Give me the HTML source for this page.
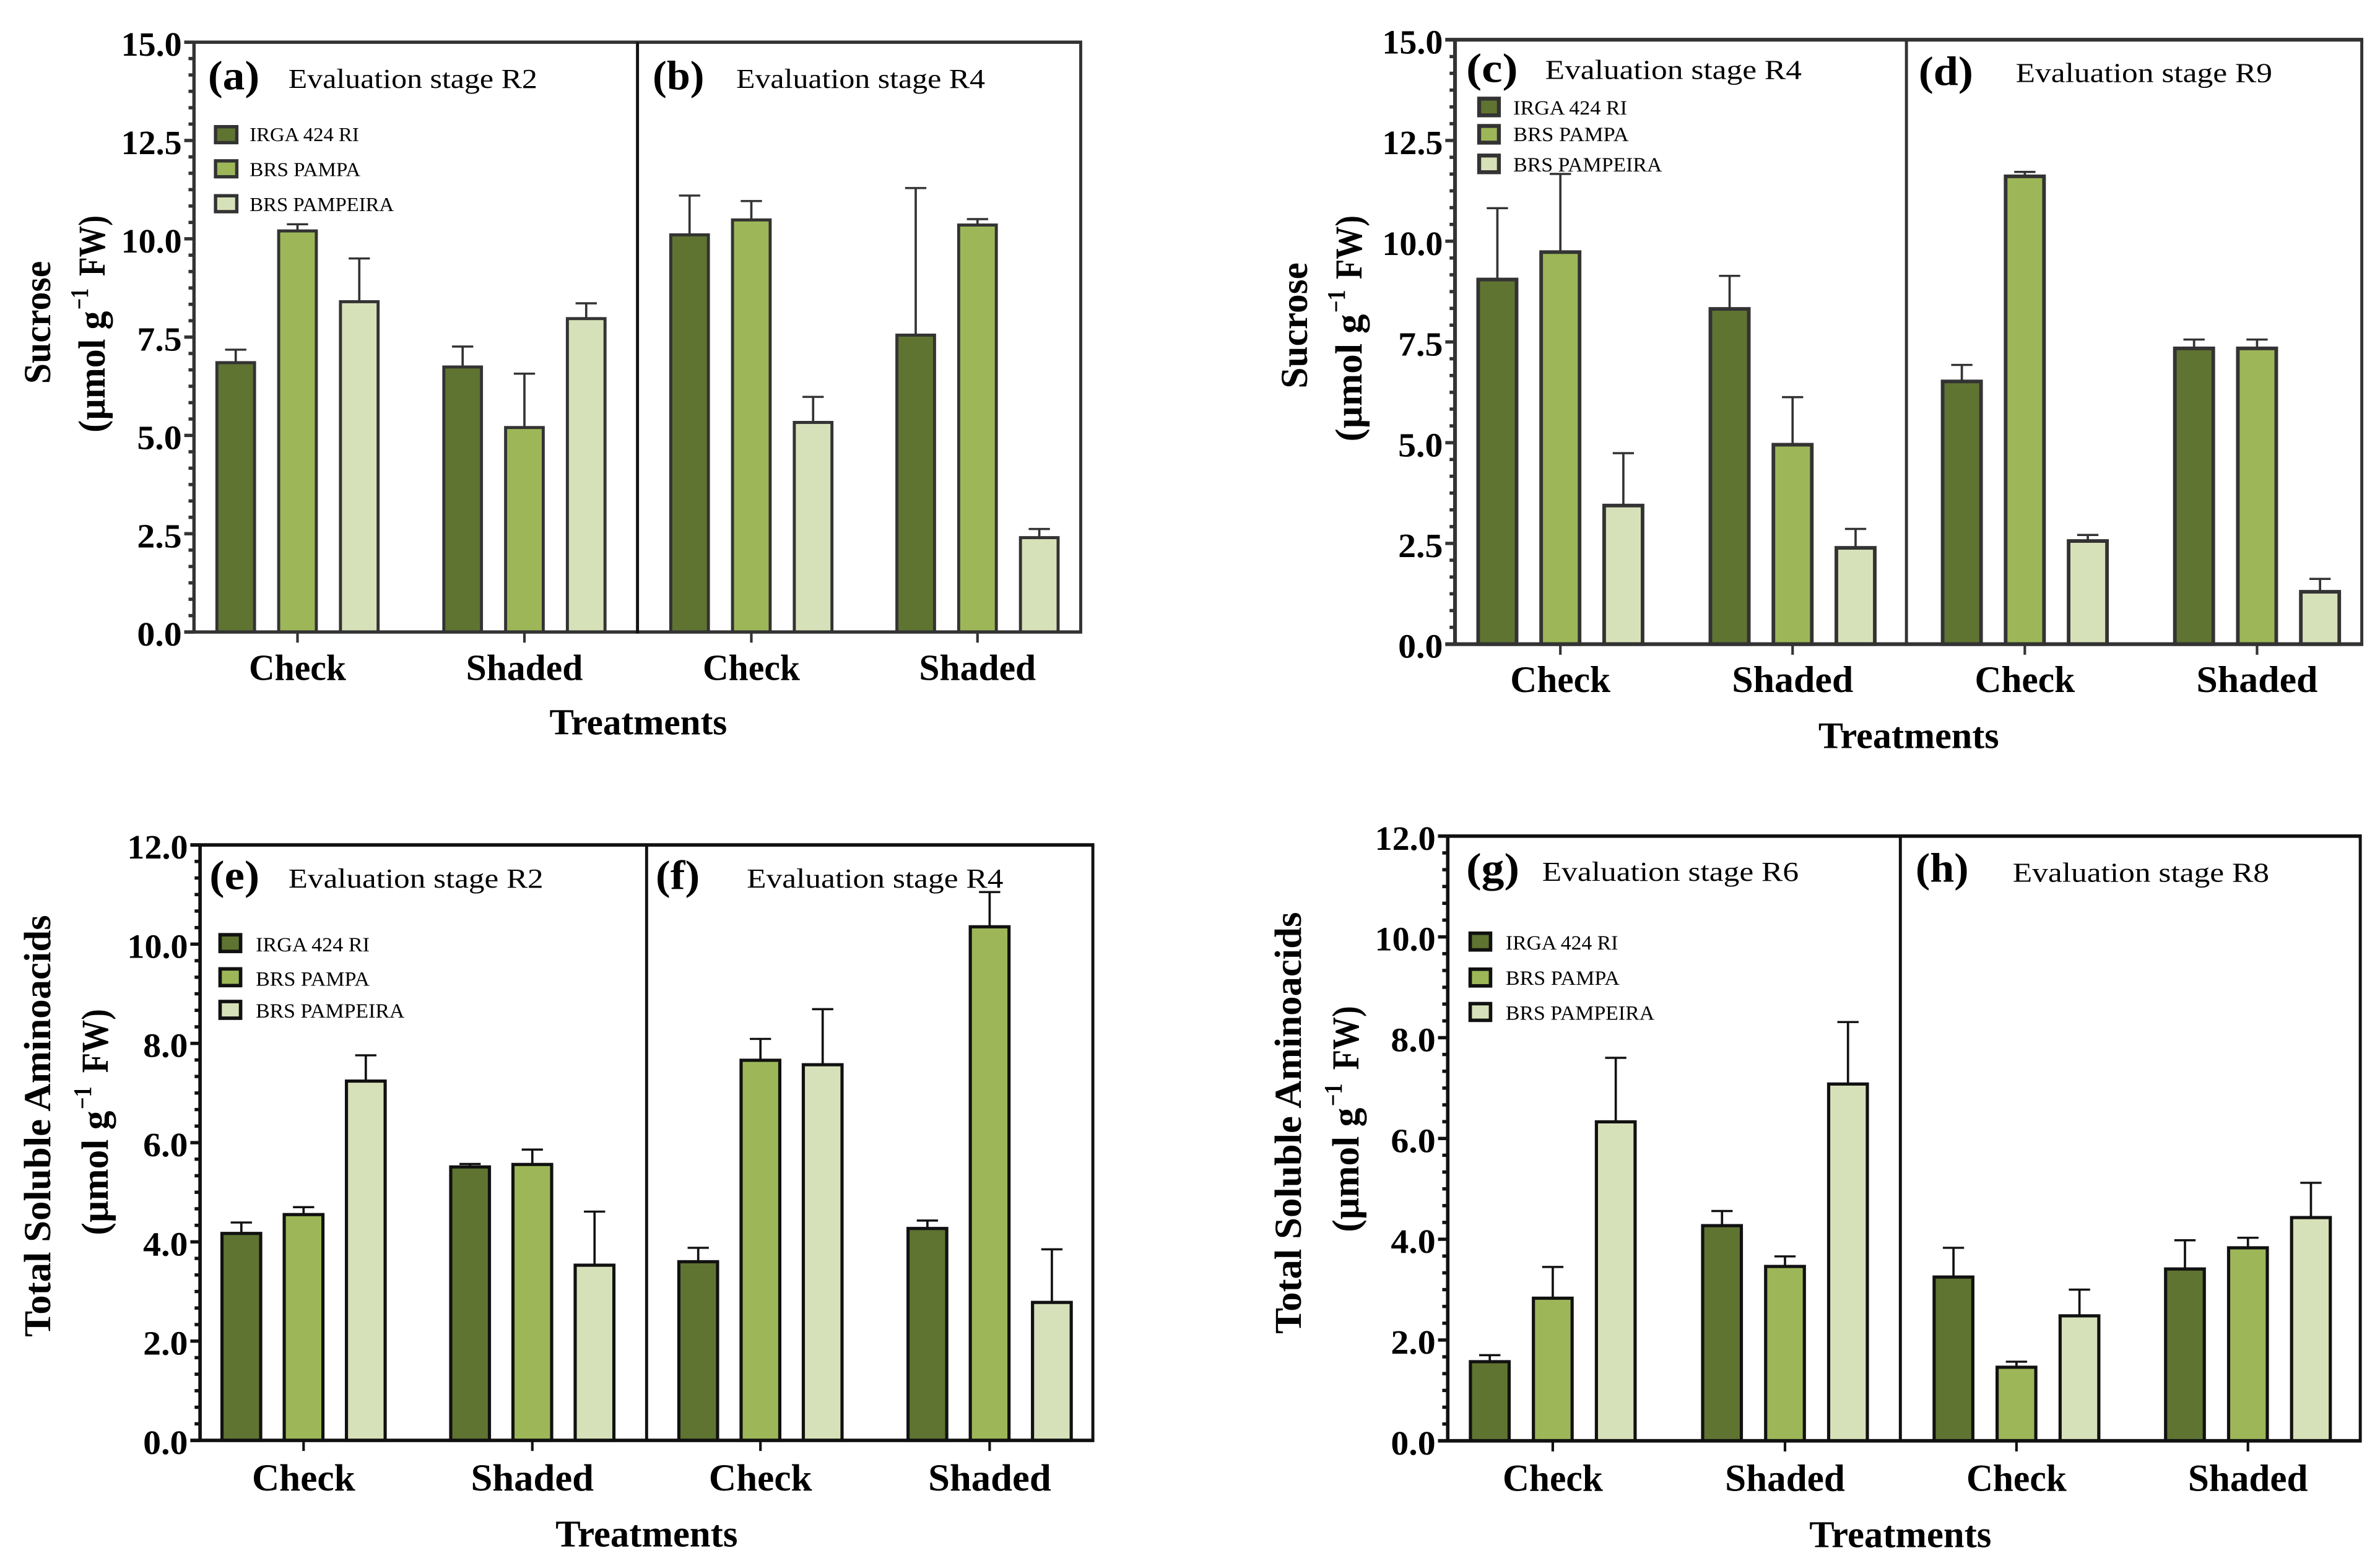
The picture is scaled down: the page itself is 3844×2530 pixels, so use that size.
<!DOCTYPE html>
<html lang="en">
<head>
<meta charset="utf-8">
<title>Sucrose and total soluble aminoacids by treatment</title>
<style>
html,body{margin:0;padding:0;background:#fff;}
svg{display:block;width:3844px;height:2530px;}
text{font-family:"Liberation Serif",serif;fill:#000;}
</style>
</head>
<body>
<svg id="chart" xmlns="http://www.w3.org/2000/svg" width="3844" height="2530" viewBox="0 0 1568 1032" preserveAspectRatio="none"></svg>
<script>
// ---------- data ----------
const categories = ['Check', 'Shaded'];
const varieties = ['IRGA 424 RI', 'BRS PAMPA', 'BRS PAMPEIRA'];
const sucroseTicks = [0, 2.5, 5, 7.5, 10, 12.5, 15];
const aminoTicks = [0, 2, 4, 6, 8, 10, 12];

const panelAMeans = [6.85, 10.2, 8.4, 6.74, 5.2, 7.97];
const panelAErrors = [0.33, 0.17, 1.1, 0.52, 1.37, 0.39];
const panelBMeans = [10.1, 10.48, 5.33, 7.55, 10.35, 2.4];
const panelBErrors = [1.0, 0.48, 0.65, 3.74, 0.15, 0.22];
const panelCMeans = [9.05, 9.73, 3.44, 8.32, 4.95, 2.39];
const panelCErrors = [1.77, 1.94, 1.3, 0.82, 1.18, 0.47];
const panelDMeans = [6.52, 11.61, 2.56, 7.34, 7.34, 1.3];
const panelDErrors = [0.41, 0.11, 0.15, 0.22, 0.22, 0.32];
const panelEMeans = [4.17, 4.55, 7.24, 5.51, 5.56, 3.53];
const panelEErrors = [0.22, 0.15, 0.52, 0.06, 0.3, 1.08];
const panelFMeans = [3.6, 7.66, 7.57, 4.27, 10.35, 2.78];
const panelFErrors = [0.28, 0.43, 1.12, 0.16, 0.7, 1.07];
const panelGMeans = [1.57, 2.83, 6.33, 4.27, 3.46, 7.08];
const panelGErrors = [0.13, 0.62, 1.27, 0.29, 0.2, 1.23];
const panelHMeans = [3.25, 1.46, 2.48, 3.41, 3.83, 4.43];
const panelHErrors = [0.58, 0.11, 0.52, 0.57, 0.2, 0.69];

// ---------- layout (display units, 1568 x 1032) ----------
const fills = ['#5f7431', '#9db758', '#d7e1b9'];
const svg = document.getElementById('chart');
const NS = 'http://www.w3.org/2000/svg';

function shape(tag, attrs, name) {
  const el = document.createElementNS(NS, tag);
  for (const k in attrs) el.setAttribute(k, attrs[k]);
  
  
  svg.appendChild(el);
  return el;
}
function label(str, x, y, size, len, opts, name) {
  const o = opts || {};
  const el = document.createElementNS(NS, 'text');
  el.setAttribute('x', x);
  el.setAttribute('y', y);
  el.setAttribute('font-size', size);
  if (o.bold) el.setAttribute('font-weight', '700');
  if (o.anchor) el.setAttribute('text-anchor', o.anchor);
  if (o.rotate) el.setAttribute('transform', 'rotate(-90 ' + x + ' ' + y + ')');
  el.setAttribute('textLength', len);
  el.setAttribute('lengthAdjust', 'spacingAndGlyphs');
  el.textContent = str;
  
  
  svg.appendChild(el);
  return el;
}
function seg(x1, y1, x2, y2, color, w, name) {
  return shape('line', {x1: x1, y1: y1, x2: x2, y2: y2, stroke: color, 'stroke-width': w}, name);
}

function drawFigure(f) {
  const yScale = v => f.bottom - (v / f.max) * (f.bottom - f.top);
  const c = f.color;

  // panels
  f.panels.forEach(p => {
    const key = p.letter;
    // error bars
    p.means.forEach((m, i) => {
      const g = Math.floor(i / 3), s = i % 3;
      const x = p.centers[g] + (s - 1) * f.step;
      const up = yScale(m + p.errors[i]);
      seg(x, yScale(m), x, up, c, 1.5, 'error-bar-' + key + '-' + categories[g].toLowerCase() + '-' + (s + 1));
      seg(x - 7, up, x + 7, up, c, 1.4, 'error-cap-' + key + '-' + categories[g].toLowerCase() + '-' + (s + 1));
    });
    // bars
    p.means.forEach((m, i) => {
      const g = Math.floor(i / 3), s = i % 3;
      const x = p.centers[g] + (s - 1) * f.step;
      shape('rect', {x: x - f.barW / 2, y: yScale(m), width: f.barW, height: f.bottom - yScale(m), fill: fills[s], stroke: c, 'stroke-width': f.barStroke},
        'bar-' + key + '-' + categories[g].toLowerCase() + '-' + (s + 1));
    });
    // x ticks + labels
    categories.forEach((cat, g) => {
      seg(p.centers[g], f.bottom, p.centers[g], f.bottom + 7, c, 1.7, 'x-tick-' + key + '-' + cat.toLowerCase());
      label(cat, p.centers[g], f.bottom + f.catDy, f.catSize, g === 0 ? f.checkW : f.shadedW, {bold: true, anchor: 'middle'}, 'x-label-' + key + '-' + cat.toLowerCase());
    });
    // panel letter and stage title
    label('(' + key + ')', p.letterX, p.letterY, 27, p.letterW, {bold: true}, 'panel-letter-' + key);
    label(p.stage, p.stageX, p.stageY, 18, p.stageW, {}, 'panel-title-' + key);
    // legend
    if (p.legend) {
      varieties.forEach((v, i) => {
        const L = p.legend;
        shape('rect', {x: L.sx, y: L.sy[i], width: L.sw, height: L.sh, fill: fills[i], stroke: c, 'stroke-width': f.barStroke + 0.2}, 'legend-swatch-' + key + '-' + (i + 1));
        label(v, L.tx, L.ty[i], L.size, L.tw[i], {}, 'legend-label-' + key + '-' + (i + 1));
      });
    }
  });

  // frame
  seg(f.left, f.top - 1, f.left, f.bottom + 1, c, f.axisW, 'y-axis-line');
  seg(f.left - 6.4, f.top, f.right + 1, f.top, c, f.axisW, 'top-border');
  seg(f.left - 6.4, f.bottom, f.right + 1, f.bottom, c, f.axisW, 'x-axis-line');
  seg(f.right, f.top, f.right, f.bottom, c, 2, 'right-border');
  seg(f.divider, f.top, f.divider, f.bottom + 1, f.dividerColor, 2, 'panel-divider');

  // y ticks
  const ticks = f.ticks;
  ticks.forEach((t, i) => {
    const y = yScale(t);
    seg(f.left - 6.4, y, f.left, y, c, 2.2, 'y-tick-' + t);
    label(t.toFixed(1), f.left - 8, y + 9, 22.6, t >= 10 ? 40 : 29.5, {bold: true, anchor: 'end'}, 'y-tick-label-' + t);
    if (i < ticks.length - 1) {
      for (let m = 1; m < 6; m++) {
        const my = yScale(t + (ticks[i + 1] - t) * m / 6);
        seg(f.left - 3.6, my, f.left, my, c, 2.2, 'y-minor-tick');
      }
    }
  });

  // axis titles
  label('Treatments', f.treatX, f.bottom + f.treatDy, f.catSize, f.treatW, {bold: true, anchor: 'middle'}, 'x-axis-title');
  const t = f.title;
  label(t.main, t.x1, t.mainY, 25, t.mainLen, {bold: true, rotate: true}, 'y-axis-title');
  label('(\u00b5mol g', t.x2, t.unitY, 25, t.unitLen, {bold: true, rotate: true}, 'y-axis-unit');
  label('\u22121', t.x2 - 11, t.supY, 17, t.supLen, {bold: true, rotate: true}, 'y-axis-unit-exponent');
  label('FW)', t.x2, t.fwY, 25, t.fwLen, {bold: true, rotate: true}, 'y-axis-unit-fw');
}

drawFigure({
  top: 27.8, bottom: 416.5, left: 127.8, right: 712, divider: 420, max: 15, ticks: sucroseTicks,
  color: '#333', dividerColor: '#111', step: 40.7, barW: 24.8, barStroke: 2, axisW: 2.2, catSize: 24, catDy: 31.5, checkW: 64, shadedW: 77,
  treatX: 420.5, treatDy: 67.5, treatW: 117,
  title: {main: 'Sucrose', x1: 33, mainY: 253, mainLen: 81, x2: 69, unitY: 285, unitLen: 80, supY: 204, supLen: 14, fwY: 182, fwLen: 40},
  panels: [
    {letter: 'a', means: panelAMeans, errors: panelAErrors, centers: [196, 345.5], letterX: 137, letterY: 59, letterW: 34, stage: 'Evaluation stage R2', stageX: 190, stageY: 58, stageW: 164,
     legend: {sx: 142, sy: [83.5, 106, 129], sw: 14, sh: 10.5, tx: 164.5, ty: [93, 116, 139], tw: [72, 73, 95], size: 13}},
    {letter: 'b', means: panelBMeans, errors: panelBErrors, centers: [495, 644], letterX: 430, letterY: 59, letterW: 34, stage: 'Evaluation stage R4', stageX: 485, stageY: 58, stageW: 164}
  ]
});
drawFigure({
  top: 26.2, bottom: 424.5, left: 958.6, right: 1556, divider: 1256, max: 15, ticks: sucroseTicks,
  color: '#333', dividerColor: '#333', step: 41.5, barW: 25.3, barStroke: 2.4, axisW: 2.5, catSize: 24.5, catDy: 31.5, checkW: 66, shadedW: 80,
  treatX: 1257.5, treatDy: 68.5, treatW: 119,
  title: {main: 'Sucrose', x1: 861, mainY: 256, mainLen: 83, x2: 897, unitY: 291, unitLen: 84, supY: 206, supLen: 15, fwY: 184, fwLen: 42},
  panels: [
    {letter: 'c', means: panelCMeans, errors: panelCErrors, centers: [1028, 1181], letterX: 966, letterY: 54, letterW: 34, stage: 'Evaluation stage R4', stageX: 1018, stageY: 52, stageW: 169,
     legend: {sx: 974.5, sy: [65, 83, 102.5], sw: 13, sh: 11, tx: 997, ty: [75.5, 93, 113], tw: [75, 76, 98], size: 13.5}},
    {letter: 'd', means: panelDMeans, errors: panelDErrors, centers: [1334, 1487], letterX: 1264, letterY: 56, letterW: 36, stage: 'Evaluation stage R9', stageX: 1328, stageY: 54, stageW: 169}
  ]
});
drawFigure({
  top: 556.8, bottom: 949.2, left: 131.8, right: 720, divider: 426, max: 12, ticks: aminoTicks,
  color: '#111', dividerColor: '#111', step: 41, barW: 25.5, barStroke: 2.1, axisW: 2.3, catSize: 25, catDy: 33, checkW: 68, shadedW: 81,
  treatX: 426, treatDy: 70, treatW: 120,
  title: {main: 'Total Soluble Aminoacids', x1: 33, mainY: 881, mainLen: 278, x2: 71, unitY: 814, unitLen: 82, supY: 731, supLen: 15, fwY: 707, fwLen: 42},
  panels: [
    {letter: 'e', means: panelEMeans, errors: panelEErrors, centers: [200, 350.7], letterX: 138, letterY: 586, letterW: 33, stage: 'Evaluation stage R2', stageX: 190, stageY: 585, stageW: 168,
     legend: {sx: 145, sy: [616, 638.5, 660], sw: 13.5, sh: 11, tx: 168.5, ty: [627, 649.5, 670.6], tw: [75, 75, 98], size: 13.5}},
    {letter: 'f', means: panelFMeans, errors: panelFErrors, centers: [501, 652], letterX: 432, letterY: 586, letterW: 29, stage: 'Evaluation stage R4', stageX: 492, stageY: 585, stageW: 169}
  ]
});
drawFigure({
  top: 551, bottom: 949.5, left: 953.8, right: 1555, divider: 1252, max: 12, ticks: aminoTicks,
  color: '#111', dividerColor: '#111', step: 41.5, barW: 25.5, barStroke: 2.1, axisW: 2.3, catSize: 25, catDy: 33, checkW: 66, shadedW: 79,
  treatX: 1252, treatDy: 70, treatW: 120,
  title: {main: 'Total Soluble Aminoacids', x1: 857, mainY: 879, mainLen: 278, x2: 895, unitY: 812, unitLen: 82, supY: 729, supLen: 15, fwY: 705, fwLen: 42},
  panels: [
    {letter: 'g', means: panelGMeans, errors: panelGErrors, centers: [1023, 1176], letterX: 966, letterY: 581, letterW: 35, stage: 'Evaluation stage R6', stageX: 1016, stageY: 580.5, stageW: 169,
     legend: {sx: 968.6, sy: [615, 638.7, 661.4], sw: 13.4, sh: 11, tx: 992, ty: [625.8, 649, 672], tw: [74, 75, 98], size: 13.5}},
    {letter: 'h', means: panelHMeans, errors: panelHErrors, centers: [1328.5, 1481], letterX: 1262, letterY: 581, letterW: 35, stage: 'Evaluation stage R8', stageX: 1326, stageY: 581, stageW: 169}
  ]
});
</script>
</body>
</html>
